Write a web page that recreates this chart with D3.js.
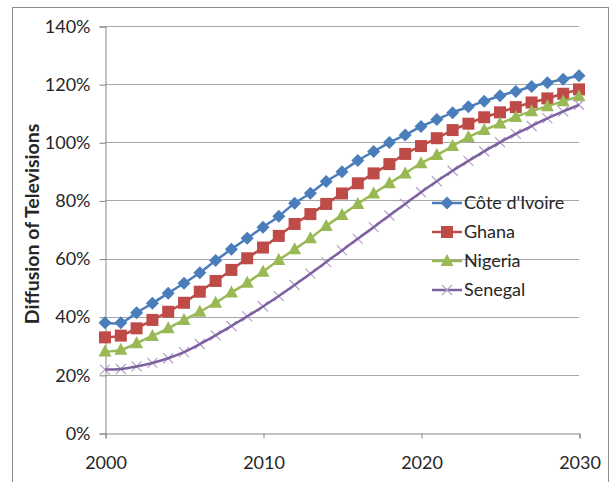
<!DOCTYPE html>
<html>
<head>
<meta charset="utf-8">
<script src="https://cdn.jsdelivr.net/npm/d3@7"></script>
<style>
  body { margin: 0; background: #fff; }
  text { font-family: Lato, "Liberation Sans", sans-serif; fill: #262626; }
</style>
</head>
<body>
<div id="chart"></div>
<script>
// data (values in %)
var years = d3.range(2000, 2031);
var coteIvoire = [37.9, 37.9, 41.4, 44.6, 48.1, 51.5, 55.1, 59.3, 63.2, 67.0, 70.8, 74.6, 79.0, 82.5, 86.5, 89.9,
    93.7, 96.8, 99.9, 102.5, 105.4, 107.8, 110.2, 112.2, 114.1, 116.0, 117.5, 119.2, 120.5, 121.7, 122.9];
var ghana = [32.9, 33.5, 36.0, 38.9, 41.7, 44.8, 48.6, 52.3, 56.1, 60.1, 63.8, 67.8, 71.9, 75.3, 78.8, 82.4,
    85.9, 89.3, 92.5, 96.0, 98.7, 101.4, 104.2, 106.4, 108.6, 110.3, 112.1, 113.7, 115.1, 116.7, 118.2];
var nigeria = [28.0, 28.6, 30.9, 33.4, 36.0, 38.9, 41.7, 44.8, 48.3, 51.7, 55.5, 59.5, 63.2, 67.0, 71.2, 75.0,
    78.8, 82.4, 85.9, 89.3, 92.8, 95.6, 98.7, 101.8, 104.2, 106.5, 108.7, 110.7, 112.4, 114.1, 115.8];
var senegal = [21.8, 22.0, 22.9, 24.1, 25.7, 27.8, 30.6, 33.6, 36.8, 40.1, 43.5, 47.1, 50.9, 54.8, 58.8, 62.8,
    66.8, 70.8, 74.8, 78.8, 82.8, 86.6, 90.2, 93.6, 96.9, 100.0, 102.9, 105.6, 108.2, 110.6, 112.9];
var seriesNames = ["Côte d'Ivoire", "Ghana", "Nigeria", "Senegal"];
var yTicks = [0, 20, 40, 60, 80, 100, 120, 140];
var xTicks = [2000, 2010, 2020, 2030];

var series = [
    { name: seriesNames[0], values: coteIvoire, color: "#4a7ebb", marker: "diamond" },
    { name: seriesNames[1], values: ghana, color: "#be4b48", marker: "square" },
    { name: seriesNames[2], values: nigeria, color: "#98b954", marker: "triangle" },
    { name: seriesNames[3], values: senegal, color: "#7d60a0", marker: "cross" }
];

var W = 610, H = 482;
var svg = d3.select("#chart").append("svg")
    .attr("width", W)
    .attr("height", H);

// outer border of the chart area
svg.append("rect")
    .attr("x", 12.5).attr("y", 7.5)
    .attr("width", 596).attr("height", 480)
    .attr("fill", "none")
    .attr("stroke", "#8c8c8c")
    .attr("stroke-width", 1);

var xscale = d3.scaleLinear().domain([2000, 2030]).range([105, 579]);
var yscale = d3.scaleLinear().domain([0, 140]).range([433, 26]);

// grid lines
svg.append("g").selectAll("line")
    .data(yTicks.filter(d => d > 0))
    .enter().append("line")
    .attr("x1", xscale(2000)).attr("x2", xscale(2030))
    .attr("y1", d => Math.round(yscale(d)) + 0.5)
    .attr("y2", d => Math.round(yscale(d)) + 0.5)
    .attr("stroke", "#a6a6a6")
    .attr("stroke-width", 1);

// y axis
var yAxis = svg.append("g")
    .attr("transform", "translate(" + (xscale(2000) + 0.5) + ",0.5)")
    .call(d3.axisLeft(yscale).tickValues(yTicks).tickSize(6).tickPadding(9)
        .tickFormat(d => d + "%"));
yAxis.select(".domain").attr("stroke", "#868686");
yAxis.selectAll(".tick line").attr("stroke", "#868686");
yAxis.selectAll("text").style("font-size", "18px").attr("fill", "#262626");

// x axis
var xAxis = svg.append("g")
    .attr("transform", "translate(0.5," + (yscale(0) + 0.5) + ")")
    .call(d3.axisBottom(xscale).tickValues(xTicks).tickSize(5).tickPadding(18)
        .tickFormat(d3.format("d")));
xAxis.select(".domain").attr("stroke", "#868686");
xAxis.selectAll(".tick line").attr("stroke", "#868686");
xAxis.selectAll("text").style("font-size", "18px").attr("fill", "#262626");

// axis title
svg.append("text")
    .attr("transform", "translate(39,224) rotate(-90)")
    .style("text-anchor", "middle")
    .style("font-size", "19.5px")
    .style("font-weight", "bold")
    .text("Diffusion of Televisions");

// marker shapes
function drawMarker(g, type, color) {
    if (type === "diamond") {
        g.append("path").attr("d", "M0,-6.5L6.5,0L0,6.5L-6.5,0Z").attr("fill", color);
    } else if (type === "square") {
        g.append("rect").attr("x", -6).attr("y", -6).attr("width", 12).attr("height", 12).attr("fill", color);
    } else if (type === "triangle") {
        g.append("path").attr("d", "M0,-7L6.5,5L-6.5,5Z").attr("fill", color);
    } else {
        g.append("path").attr("d", "M-5,-5L5,5M-5,5L5,-5")
            .attr("stroke", "#b3a2c7").attr("stroke-width", 1.2).attr("fill", "none");
    }
}

var line = d3.line()
    .x((d, i) => xscale(years[i]))
    .y(d => yscale(d))
    .curve(d3.curveCatmullRom);

series.forEach(function (s) {
    var g = svg.append("g");
    if (s.marker === "cross") {
        // crosses are drawn under the line
        s.values.forEach(function (v, i) {
            drawMarker(g.append("g").attr("transform", "translate(" + xscale(years[i]) + "," + yscale(v) + ")"), s.marker, s.color);
        });
    }
    g.append("path")
        .datum(s.values)
        .attr("d", line)
        .attr("fill", "none")
        .attr("stroke", s.color)
        .attr("stroke-width", 2.5);
    if (s.marker !== "cross") {
        s.values.forEach(function (v, i) {
            drawMarker(g.append("g").attr("transform", "translate(" + xscale(years[i]) + "," + yscale(v) + ")"), s.marker, s.color);
        });
    }
});

// legend
var legend = svg.append("g");
series.forEach(function (s, i) {
    var y = 203 + i * 29;
    legend.append("line")
        .attr("x1", 432).attr("x2", 462)
        .attr("y1", y).attr("y2", y)
        .attr("stroke", s.color).attr("stroke-width", 2.5);
    drawMarker(legend.append("g").attr("transform", "translate(447," + y + ")"), s.marker, s.color);
    legend.append("text")
        .attr("x", 464).attr("y", y)
        .attr("dy", "0.35em")
        .style("font-size", "18px")
        .text(s.name);
});
</script>
</body>
</html>
